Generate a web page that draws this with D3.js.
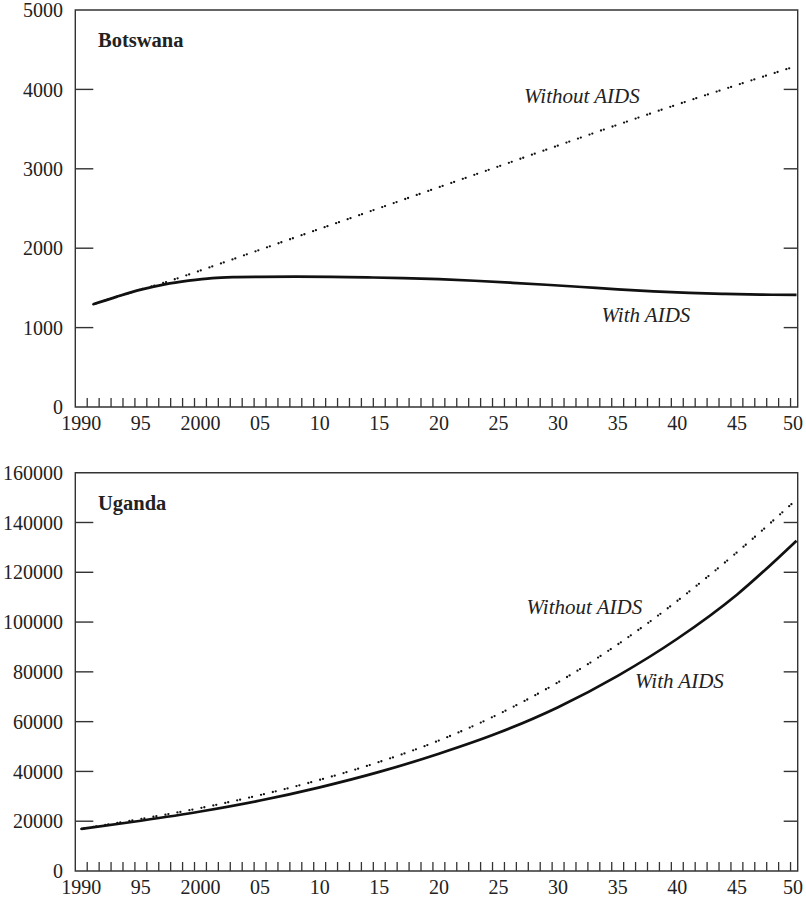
<!DOCTYPE html>
<html><head><meta charset="utf-8">
<script src="https://cdn.jsdelivr.net/npm/d3@7"></script>
<style>
body{margin:0;background:#fff}
svg{display:block}
text{font-family:"Liberation Serif","Times New Roman",serif;fill:#222}
</style>
</head><body>
<svg id="chart" width="806" height="898"></svg>
<script>
// ---------- data ----------
const xTickYears = [1990,1995,2000,2005,2010,2015,2020,2025,2030,2035,2040,2045,2050];
const xTickLabels = ["1990","95","2000","05","10","15","20","25","30","35","40","45","50"];

// Botswana
const botWithYears = [1991,1993,1995,1997,1999,2001,2003,2005,2008,2011,2014,2017,2020,2023,2026,2029,2032,2035,2038,2041,2044,2047,2050];
const botWith      = [1293,1390,1478,1545,1591,1624,1636,1640,1641,1638,1632,1624,1610,1590,1566,1540,1511,1482,1457,1438,1425,1416,1411];
const botWithoutYears = [1991,1993,1995,1997,2000,2005,2010,2015,2020,2025,2030,2035,2040,2045,2050];
const botWithout      = [1293,1390,1480,1568,1719,1981,2243,2505,2768,3030,3293,3555,3810,4055,4295];
const botYTicks = [0,1000,2000,3000,4000,5000];

// Uganda
const ugaYears   = [1990,1995,2000,2005,2010,2015,2020,2025,2030,2035,2040,2045,2050];
const ugaWith    = [16900,20200,23900,28300,33600,39800,47100,55500,65800,78400,93300,111000,132700];
const ugaWithout = [16900,20900,25300,30500,36600,43800,52400,63000,75800,91000,108500,128000,149200];
const ugaYTicks = [0,20000,40000,60000,80000,100000,120000,140000,160000];

// ---------- layout ----------
const svg = d3.select("#chart");
const L = 75.3, R = 797.7;
const x = d3.scaleLinear().domain([1989.5, 2050.1]).range([L, R]);
const minorTicks = d3.range(1990.5, 2050, 1);

const panels = [
  {name:"Botswana", top:10, bottom:407, yMax:5000, yTicks:botYTicks,
   solid: botWithYears.map((yr,i)=>[yr, botWith[i]]),
   dotted: botWithoutYears.map((yr,i)=>[yr, botWithout[i]]),
   labelWithout:[524,103], labelWith:[601.5,321.5]},
  {name:"Uganda", top:472.7, bottom:871, yMax:160000, yTicks:ugaYTicks,
   solid: ugaYears.map((yr,i)=>[yr, ugaWith[i]]),
   dotted: ugaYears.map((yr,i)=>[yr, ugaWithout[i]]),
   labelWithout:[526.5,614], labelWith:[635,688]}
];

const frameColor = "#333";

panels.forEach(p => {
  const y = d3.scaleLinear().domain([0, p.yMax]).range([p.bottom, p.top]);
  const g = svg.append("g");

  // frame
  g.append("path")
    .attr("d", `M${L},${p.bottom}V${p.top}H${R}V${p.bottom}Z`)
    .attr("fill","none").attr("stroke",frameColor).attr("stroke-width",1.4);

  // y ticks (left inward 18, right inward 14)
  const inner = p.yTicks.filter(v => v > 0 && v < p.yMax);
  g.selectAll(".lt").data(inner).enter().append("line")
    .attr("x1",L).attr("x2",L+18).attr("y1",d=>y(d)).attr("y2",d=>y(d))
    .attr("stroke",frameColor).attr("stroke-width",1.4);
  g.selectAll(".rt").data(inner).enter().append("line")
    .attr("x1",R-14).attr("x2",R).attr("y1",d=>y(d)).attr("y2",d=>y(d))
    .attr("stroke",frameColor).attr("stroke-width",1.4);
  g.selectAll(".yl").data(p.yTicks).enter().append("text")
    .attr("x",63).attr("y",d=>y(d)).attr("dy","0.36em")
    .attr("text-anchor","end").attr("font-size",20)
    .text(d=>d);

  // x minor ticks (inward 9)
  g.selectAll(".xt").data(minorTicks).enter().append("line")
    .attr("x1",d=>x(d)).attr("x2",d=>x(d))
    .attr("y1",p.bottom).attr("y2",p.bottom-9)
    .attr("stroke",frameColor).attr("stroke-width",1.3);
  g.selectAll(".xl").data(xTickYears).enter().append("text")
    .attr("x",d=>Math.min(x(d), 793)).attr("y",p.bottom+23)
    .attr("text-anchor","middle").attr("font-size",20)
    .text((d,i)=>xTickLabels[i]);

  // lines
  const line = d3.line().x(d=>x(d[0])).y(d=>y(d[1])).curve(d3.curveMonotoneX);
  g.append("path").datum(p.dotted).attr("d",line)
    .attr("fill","none").attr("stroke","#111").attr("stroke-width",2.3)
    .attr("stroke-linecap","round").attr("stroke-dasharray","0,3,0,9.2");
  g.append("path").datum(p.solid).attr("d",line)
    .attr("fill","none").attr("stroke","#111").attr("stroke-width",2.7);

  // labels
  g.append("text").attr("x",98).attr("y",p.top+37)
    .attr("font-size",20.5).attr("font-weight","bold").text(p.name);
  g.append("text").attr("x",p.labelWithout[0]).attr("y",p.labelWithout[1])
    .attr("font-size",21).attr("font-style","italic").text("Without AIDS");
  g.append("text").attr("x",p.labelWith[0]).attr("y",p.labelWith[1])
    .attr("font-size",21).attr("font-style","italic").text("With AIDS");
});
</script>
</body></html>
